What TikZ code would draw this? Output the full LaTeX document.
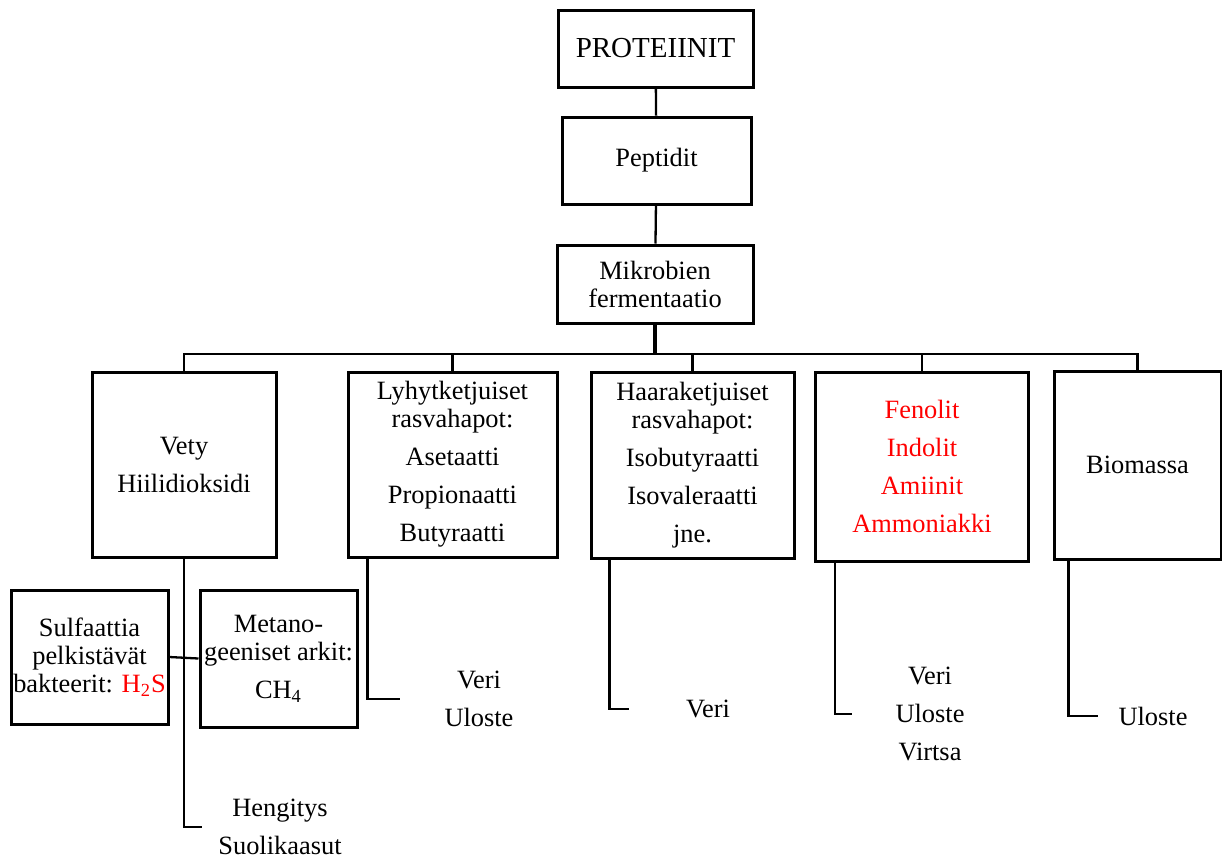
\documentclass[tikz,border=0pt]{standalone}
\usepackage{fontspec}
\setmainfont{Liberation Serif}
\usetikzlibrary{positioning}
\definecolor{ink}{RGB}{0,0,0}
\definecolor{alert}{RGB}{255,0,0}

\begin{document}
\begin{tikzpicture}[x=0.5pt,y=-0.5pt,
    box/.style={draw=ink,line width=1.5pt,align=center,inner sep=0pt,font=\fontsize{13.2}{14}\selectfont},
    txt/.style={align=center,inner sep=0pt,font=\fontsize{13.2}{14}\selectfont},
    link/.style={draw=ink,line width=1.15pt}]
    \useasboundingbox (0,0) rectangle (1222,859);
    % top chain
    \node[box,minimum width=97.5pt,minimum height=38.5pt,font=\fontsize{14.5}{15}\selectfont] (prot) at (655.5,48.5) {PROTEIINIT};
    \node[box,minimum width=94.5pt,minimum height=43.5pt] (pept) at (656.5,160.5) {Peptidit};
    \node[box,minimum width=98pt,minimum height=39pt] (mikro) at (655,284) {Mikrobien\\fermentaatio};
    % products
    \node[box,minimum width=92pt,minimum height=92.5pt] (vety) at (184,464.5) {Vety\\[5pt]Hiilidioksidi};
    \node[box,minimum width=104.5pt,minimum height=92.5pt] (lyhyt) at (452.5,464.5)
      {Lyhytketjuiset\\rasvahapot:\\[5pt]Asetaatti\\[5pt]Propionaatti\\[5pt]Butyraatti};
    \node[box,minimum width=101.5pt,minimum height=93pt] (haara) at (692.5,465)
      {Haaraketjuiset\\rasvahapot:\\[5pt]Isobutyraatti\\[5pt]Isovaleraatti\\[5pt]jne.};
    \node[box,minimum width=106.5pt,minimum height=94.5pt,text=alert] (fenol) at (922,466.5)
      {Fenolit\\[5pt]Indolit\\[5pt]Amiinit\\[5pt]Ammoniakki};
    \node[box,minimum width=83.5pt,minimum height=94pt] (bio) at (1137.5,465) {Biomassa};
    % gas side boxes
    \node[box,minimum width=78.5pt,minimum height=67pt] (sulf) at (89.5,657)
      {Sulfaattia\\pelkistävät\\bakteerit: \textcolor{alert}{H\textsubscript{2}S}};
    \node[box,minimum width=78.5pt,minimum height=68.5pt] (metano) at (278.5,658.5)
      {Metano-\\geeniset arkit:\\[5pt]CH\textsubscript{4}};
    % fates
    \node[txt] (hengitys) at (280,826.5) {Hengitys\\[5pt]Suolikaasut};
    \node[txt] (veri1) at (479,699) {Veri\\[5pt]Uloste};
    \node[txt] (veri2) at (708,709) {Veri};
    \node[txt] (veri3) at (930,714) {Veri\\[5pt]Uloste\\[5pt]Virtsa};
    \node[txt] (uloste) at (1153,716) {Uloste};

    \coordinate (bus) at (655,354);
    \coordinate (vetyend) at (202,827);
    \coordinate (lyhytend) at (400,699);
    \coordinate (haaraend) at (629,709);
    \coordinate (fenolend) at (852,714);
    \coordinate (bioend) at (1098,716);

    \draw[link] (prot) -- (pept);
    \draw[link] (pept) -- (mikro);
    \draw[link,line width=1.8pt] (mikro.south) -- (mikro.south |- bus);
    \draw[link] (vety.north) -- (vety.north |- bus) -- (bio.north |- bus) -- (bio.north);
    \foreach \b in {lyhyt,haara,fenol}
      \draw[link] (\b.north) -- (\b.north |- bus);
    \draw[link] (vety.south) |- (vetyend);
    \draw[link] (sulf.east) -- (metano.west);
    \foreach \b/\dx in {lyhyt/10.5,haara/10,fenol/10.5,bio/8}
      \draw[link] ([xshift=\dx pt]\b.south west) |- (\b end);
\end{tikzpicture}
\end{document}
